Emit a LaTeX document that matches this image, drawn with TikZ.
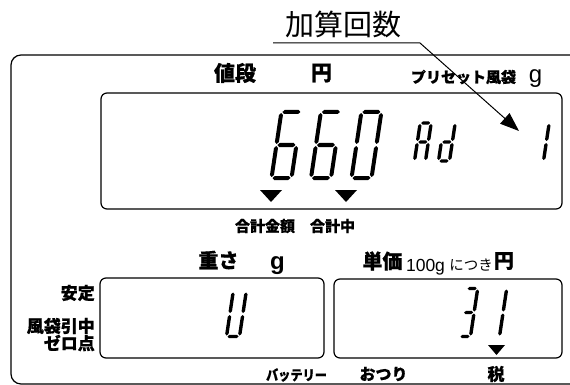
\documentclass[tikz,border=0pt]{standalone}
\usepackage{fontspec}
\newfontfamily\jp{Noto Sans CJK JP}[BoldFeatures={FakeBold=0.6}]
\newfontfamily\lat{Liberation Sans}
\usetikzlibrary{arrows.meta}
\def\digg{1.0}
\newcommand\hseg[3]{\fill (#1,#3) -- (#1+\digt/2,#3+\digt/2) -- (#2-\digt/2,#3+\digt/2) -- (#2,#3) -- (#2-\digt/2,#3-\digt/2) -- (#1+\digt/2,#3-\digt/2) -- cycle;}
\newcommand\vseg[3]{\fill (#1,#2) -- (#1+\digt/2,#2+\digt/2) -- (#1+\digt/2,#3-\digt/2) -- (#1,#3) -- (#1-\digt/2,#3-\digt/2) -- (#1-\digt/2,#2+\digt/2) -- cycle;}
\newcommand\segA{\hseg{\digg}{\digw-\digg}{\digh}}
\newcommand\segB{\vseg{\digw}{\digh/2+\digg}{\digh-\digg}}
\newcommand\segC{\vseg{\digw}{\digg}{\digh/2-\digg}}
\newcommand\segD{\hseg{\digg}{\digw-\digg}{0}}
\newcommand\segE{\vseg{0}{\digg}{\digh/2-\digg}}
\newcommand\segF{\vseg{0}{\digh/2+\digg}{\digh-\digg}}
\newcommand\segG{\hseg{\digg}{\digw-\digg}{\digh/2}}
\newcommand\sevseg[6]{%
  \begin{scope}[shift={(#1,#2)}, xslant=0.15, yscale=-1]
    \def\digw{#3}\def\digh{#4}\def\digt{#5}%
    \foreach \s in {#6}{\csname seg\s\endcsname}
  \end{scope}}
\tikzset{
  lbl/.style={font=\jp\bfseries\fontsize{#1}{#1}\selectfont, inner sep=0pt},
  lblr/.style={font=\jp\fontsize{#1}{#1}\selectfont, inner sep=0pt},
  latr/.style={font=\lat\fontsize{#1}{#1}\selectfont, inner sep=0pt, anchor=base},
  latb/.style={font=\lat\bfseries\fontsize{#1}{#1}\selectfont, inner sep=0pt, anchor=base},
  boxline/.style={draw, line width=1.2pt, rounded corners=6pt},
  marker/.style={fill=black},
}
\begin{document}
\begin{tikzpicture}[x=1pt,y=-1pt]
\useasboundingbox (0,0) rectangle (570,385);
\clip (0,0) rectangle (570,385);
% outer frame
\draw[line width=1.2pt, rounded corners=10pt] (11,55) rectangle (640,384);
% title with pointer
\node[lblr=29] (title) at (343.5,24) {加算回数};
\coordinate (ulL) at (273,43);
\coordinate (ulR) at (420,43);
\coordinate (tip) at (519,131);
\draw[line width=1pt, -{Triangle[length=19pt,width=14pt]}] (ulL) -- (ulR) -- (tip);
% top labels
\node[lbl=21] (neda) at (235,73) {値段};
\node[lbl=21] (en1) at (321.5,73) {円};
\node[lbl=15] (preset) at (463.5,77) {プリセット風袋};
\node[latr=24] (g1) at (535.5,83) {g};
% top display
\draw[boxline] (101,93) rectangle (562,209);
\sevseg{271.5}{178}{20}{66}{4}{A,C,D,E,F,G}
\sevseg{311}{178}{20}{66}{4}{A,C,D,E,F,G}
\sevseg{351.5}{178}{20}{66}{4}{A,B,C,D,E,F}
\sevseg{414.5}{161}{11}{38}{3.4}{A,B,C,E,F,G}
\sevseg{438.5}{161}{11}{38}{3.4}{B,C,D,E,G}
\sevseg{532.5}{161}{11}{38}{3.4}{B,C}
\fill[marker] (260,190) -- (282,190) -- (271,202) -- cycle;
\fill[marker] (335,190) -- (357,190) -- (346,202) -- cycle;
\node[lbl=15] (gokei) at (265,226) {合計金額};
\node[lbl=15] (gokeichu) at (332.5,226) {合計中};
% weight / unit price labels
\node[lbl=20] (omosa) at (218.5,260) {重さ};
\node[latb=24] (g2) at (277.5,269.5) {g};
\node[lbl=20] (tanka) at (382.5,261) {単価};
\node[latr=17.5] (hyaku) at (425.5,271) {100g};
\node[lblr=14.5] (nitsuki) at (471,265) {につき};
\node[lbl=20] (en2) at (504,261) {円};
% left labels
\node[lbl=17, anchor=east] (antei) at (95,293) {安定};
\node[lbl=17, anchor=east] (fuutai) at (95,326) {風袋引中};
\node[lbl=17, anchor=east] (zero) at (95,343) {ゼロ点};
% bottom displays
\draw[boxline] (100,278) rectangle (324,358);
\draw[boxline] (334,279) rectangle (562,358);
\sevseg{226.5}{336.5}{13}{45}{3.4}{B,C,D,E,F}
\sevseg{459.5}{336.5}{11}{48}{3.4}{A,B,C,D,G}
\sevseg{486.5}{336.5}{13}{48}{3.4}{B,C}
\fill[marker] (488,345) -- (505,345) -- (496.5,355) -- cycle;
% bottom labels
\node[lbl=14] (batt) at (296.5,375) {\scalebox{0.87}[1]{バッテリー}};
\node[lbl=16] (otsuri) at (383.5,374) {おつり};
\node[lbl=17] (zei) at (496,374) {税};
\end{tikzpicture}
\end{document}
